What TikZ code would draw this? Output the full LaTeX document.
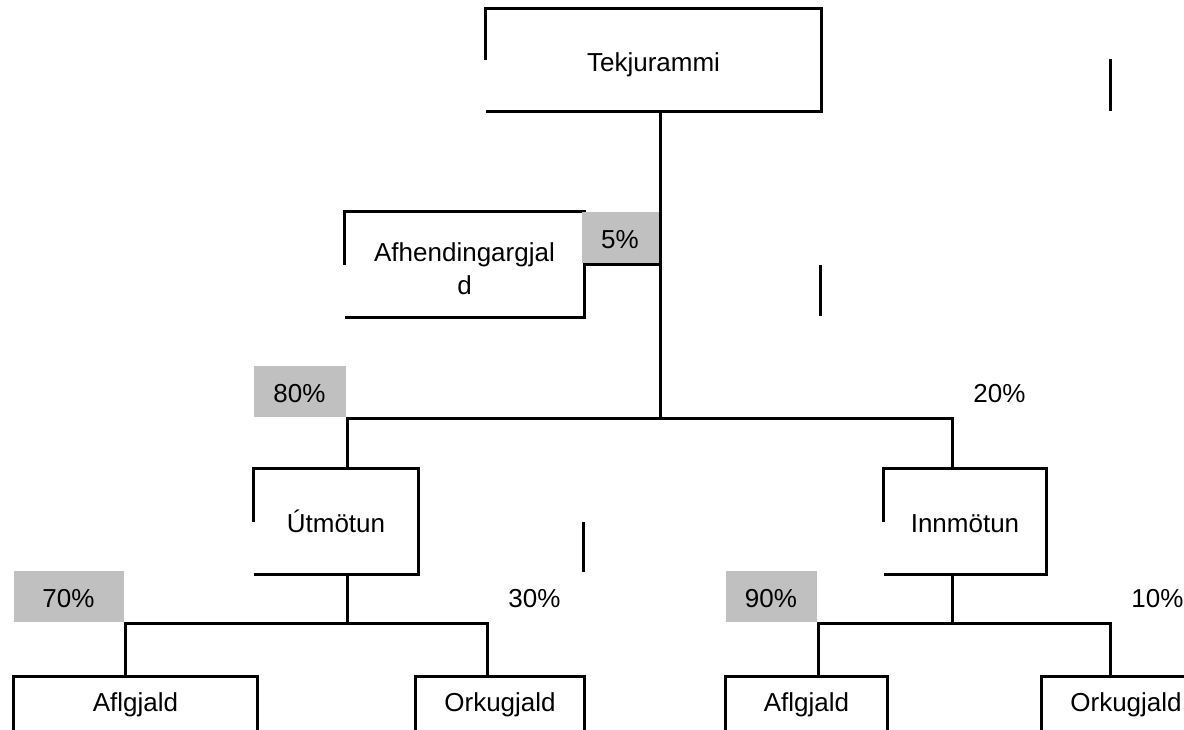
\documentclass[tikz,border=0pt]{standalone}
\usepackage{fontspec}
\setmainfont{Liberation Sans}
\usepackage{tikz}
\usetikzlibrary{positioning}
\definecolor{pctgrey}{HTML}{C0C0C0}

\begin{document}
\begin{tikzpicture}[x=0.5pt, y=-0.5pt, line width=1.5pt,
  every node/.style={font=\fontsize{13}{16.5}\selectfont, inner sep=0pt, align=center},
  box/.style={minimum width={#1*0.5pt}, minimum height=51.5pt, text height=11pt, text depth=0pt},
  openbox/.style={minimum width={#1*0.5pt}, anchor=north, text height=9pt, text depth=3pt, inner ysep=8pt},
  pctbox/.style={fill=pctgrey, minimum width={#1*0.5pt}, minimum height=25.5pt, anchor=south east, text height=11pt, text depth=0pt},
  pctfree/.style={minimum width=46pt, minimum height=25.5pt, anchor=south west, text height=11pt, text depth=0pt}]
\clip (0,0) rectangle (1184,729);

% joints
\coordinate (j1) at (660,418);
\coordinate (b80) at (347,418);
\coordinate (b20) at (952,418);
\coordinate (b70) at (125,623);
\coordinate (b30) at (487,623);
\coordinate (b90) at (818,623);
\coordinate (b10) at (1110,623);
\coordinate (bot) at (0,740);

% boxes
\node (tekjur) [box=333, minimum height=50pt] at (653.5,60) {Tekjurammi};
\node (afhend) [box=237, text height=29.6pt, text depth=0pt] at (464.5,264.5) {Afhendingargjal\\d};
\node (utmot) [box=162] at (336,521.5) {Útmötun};
\node (innmot) [box=160] at (965,521.5) {Innmötun};
\node (afl1) [openbox=241] at (135.5,676) {Aflgjald};
\node (ork1) [openbox=166] at (500,676) {Orkugjald};
\node (afl2) [openbox=159] at (806.5,676) {Aflgjald};
\node (ork2) [openbox=166] at (1126,676) {Orkugjald};

\foreach \n in {tekjur,afhend,utmot,innmot}
  \draw (\n.west) -- (\n.north west) -- (\n.north east) -- (\n.south east) -- (\n.south west);
\foreach \n in {afl1,ork1,afl2,ork2}
  \draw (\n.north west |- bot) -- (\n.north west) -- (\n.north east) -- (\n.north east |- bot);

% shares
\node (p5) [pctbox=77] at (afhend.east -| j1) {5\%};
\node (p80) [pctbox=92] at (b80) {80\%};
\node (p70) [pctbox=110] at (b70) {70\%};
\node (p90) [pctbox=91] at (b90) {90\%};
\node (p20) [pctfree] at (b20) {20\%};
\node (p30) [pctfree] at (b30) {30\%};
\node (p10) [pctfree] at (b10) {10\%};

% connectors
\draw (tekjur.south -| j1) -- (j1);
\draw (afhend.east) -- (afhend.east -| j1);
\draw (b80 |- utmot.north) |- (b20) -- (b20 |- innmot.north);
\draw (b80 |- utmot.south) -- (b80 |- b70);
\draw (b70 |- afl1.north) |- (b30) -- (b30 |- ork1.north);
\draw (b20 |- innmot.south) -- (b20 |- b90);
\draw (b90 |- afl2.north) |- (b10) -- (b10 |- ork2.north);

% loose strokes
\draw (1110,59) -- (1110,111);
\draw (820,265) -- (820,316);
\draw (583,522) -- (583,572);
\end{tikzpicture}
\end{document}
